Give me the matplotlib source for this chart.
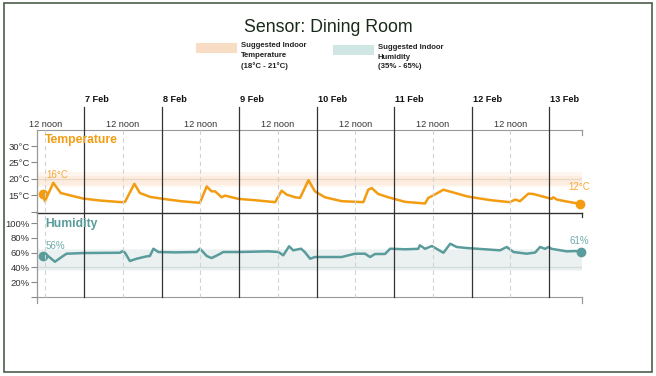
import matplotlib
matplotlib.use("Agg")
import matplotlib.pyplot as plt
from matplotlib.patches import Rectangle
from matplotlib.lines import Line2D
from matplotlib.transforms import blended_transform_factory

plt.rcParams['font.family'] = ['Liberation Sans', 'DejaVu Sans']

# hours since 6 Feb 00:00
temp_hours = [11.2, 11.9, 14.5, 16.8, 20.0, 23.8, 29.0, 35.7, 36.7, 39.6,
              41.3, 44.5, 48.6, 54.0, 59.9, 62.0, 63.5, 64.6, 66.6, 67.7,
              71.8, 77.0, 83.2, 85.2, 86.8, 89.3, 90.9, 93.5, 95.5, 98.6,
              103.8, 110.5, 112.0, 113.1, 115.1, 118.2, 123.4, 129.6, 130.6, 132.2,
              135.3, 138.9, 142.5, 144.1, 150.0, 155.9, 157.5, 159.0, 161.6, 163.1,
              168.8, 169.3, 170.4, 174.0, 177.6]
temp_values = [15.5, 13.2, 18.8, 15.7, 14.9, 14.0, 13.4, 12.9, 13.0, 18.5,
               15.7, 14.5, 13.9, 13.2, 12.7, 17.7, 16.2, 16.2, 14.4, 14.9,
               13.9, 13.5, 12.9, 16.4, 15.2, 14.4, 14.2, 19.6, 16.2, 14.4,
               13.2, 12.9, 16.7, 17.2, 15.4, 14.4, 13.0, 12.5, 14.2, 15.0,
               16.7, 15.7, 14.7, 14.4, 13.5, 12.9, 13.7, 13.2, 15.5, 15.4,
               13.9, 14.4, 13.7, 13.0, 12.4]

hum_hours = [11.2, 12.4, 15.0, 17.1, 18.6, 23.8, 29.0, 35.1, 36.0, 36.7,
             38.2, 40.3, 43.4, 44.4, 45.5, 47.0, 52.2, 58.9, 59.9, 62.0,
             63.5, 65.6, 67.1, 71.8, 81.1, 84.2, 85.7, 87.5, 88.8, 91.2,
             92.4, 94.0, 95.5, 103.8, 107.9, 111.0, 112.6, 114.1, 117.2, 118.8,
             123.4, 127.5, 128.0, 129.6, 131.7, 135.3, 137.4, 139.4, 142.5, 152.8,
             154.9, 157.0, 161.1, 163.7, 165.2, 166.8, 167.8, 168.8, 173.5, 176.1,
             177.9]
hum_values = [55.5, 57.0, 47.5, 54.0, 58.4, 59.3, 59.5, 59.7, 62.0, 59.7,
              48.5, 51.6, 54.8, 55.3, 65.2, 60.7, 60.2, 60.7, 65.2, 55.3,
              52.5, 57.0, 60.7, 60.7, 61.6, 60.7, 56.2, 68.4, 63.0, 65.2,
              60.5, 51.6, 53.9, 53.9, 58.4, 58.4, 53.9, 58.0, 58.0, 65.2,
              64.4, 65.0, 69.8, 65.0, 68.8, 59.7, 71.9, 67.5, 66.1, 63.0,
              67.5, 60.7, 58.4, 60.0, 67.5, 65.0, 67.5, 65.0, 61.6, 62.0,
              61.2]

day_hours = [24, 48, 72, 96, 120, 144, 168]
day_labels = ['7 Feb', '8 Feb', '9 Feb', '10 Feb', '11 Feb', '12 Feb', '13 Feb']
noon_hours = [12, 36, 60, 84, 108, 132, 156]
noon_label = '12 noon'

temp_ticks = [10, 15, 20, 25, 30]
temp_tick_labels = ['', '15°C', '20°C', '25°C', '30°C']
hum_ticks = [0, 20, 40, 60, 80, 100]
hum_tick_labels = ['', '20%', '40%', '60%', '80%', '100%']
temp_band = (18, 21)
hum_band = (35, 65)

ORANGE = '#f39c12'
TEAL = '#5a9c9c'

W, H = 656, 376
fig = plt.figure(figsize=(W / 100, H / 100), dpi=100)


def fx(x):
    return x / W


def fy(y):
    return 1 - y / H


def box(x0, y0, x1, y1):
    return [fx(x0), fy(y1), (x1 - x0) / W, (y1 - y0) / H]


ax_t = fig.add_axes(box(37, 130, 582, 213))
ax_h = fig.add_axes(box(37, 213, 582, 297))
xlim = (9.45, 178.2)

# bands
ax_t.axhspan(temp_band[0] - 0.6, temp_band[1] + 1.2, color='#fef6ee', lw=0)
ax_t.axhspan(temp_band[0], temp_band[1], color='#fcede0', lw=0)
ax_t.axhline(20, color='#ebd6c2', lw=0.9)
ax_h.axhspan(hum_band[0], hum_band[1], color='#f3f6f6', lw=0)
ax_h.axhspan(hum_band[0] + 1.5, hum_band[1] - 1.5, color='#ebf0f0', lw=0)
ax_h.axhline(40, color='#d3dcdc', lw=0.9)

ax_t.plot(temp_hours, temp_values, color=ORANGE, lw=1.8, solid_joinstyle='round', zorder=5)
ax_t.plot([temp_hours[0], temp_hours[-1]], [temp_values[0], temp_values[-1]], 'o',
          color=ORANGE, ms=6, zorder=6, clip_on=False)
ax_h.plot(hum_hours, hum_values, color=TEAL, lw=1.8, solid_joinstyle='round', zorder=5)
ax_h.plot([hum_hours[0], hum_hours[-1]], [hum_values[0], hum_values[-1]], 'o',
          color=TEAL, ms=6, zorder=6, clip_on=False)

ax_t.set_ylim(9.6, 34.9)
ax_h.set_ylim(-0.3, 113.6)
for ax, ticks, labels in [(ax_t, temp_ticks, temp_tick_labels), (ax_h, hum_ticks, hum_tick_labels)]:
    ax.set_xlim(*xlim)
    ax.set_xticks([])
    ax.set_yticks(ticks)
    ax.set_yticklabels(labels)
    ax.tick_params(axis='y', length=4, width=0.8, color='#888', labelcolor='#333',
                   labelsize=6.8, pad=1.5)
    ax.patch.set_visible(False)
    for s in ax.spines.values():
        s.set_visible(False)
    ax.spines['left'].set_visible(True)
    ax.spines['left'].set_color('#999')
    ax.spines['left'].set_linewidth(0.9)

ax_t.spines['top'].set_visible(True)
ax_t.spines['top'].set_color('#999')
ax_t.spines['bottom'].set_visible(True)
ax_t.spines['bottom'].set_color('#333')
ax_t.spines['bottom'].set_linewidth(1.0)
ax_h.spines['bottom'].set_visible(True)
ax_h.spines['bottom'].set_color('#999')

# day and noon lines
tr = blended_transform_factory(ax_t.transData, fig.transFigure)
for h, lab in zip(day_hours, day_labels):
    fig.add_artist(Line2D([h, h], [fy(107), fy(297)], transform=tr, color='#333', lw=0.9, zorder=3))
    fig.text(ax_t.transData.transform((h, 0))[0] / W + 1 / W, fy(100), lab, ha='left', va='center',
             fontsize=6.6, fontweight='bold', color='#111')
for h in noon_hours:
    fig.add_artist(Line2D([h, h], [fy(130), fy(297)], transform=tr, color='#d2d2d2', lw=0.8,
                          dashes=(4, 3), zorder=1))
    fig.text(ax_t.transData.transform((h, 0))[0] / W, fy(125), noon_label, ha='center', va='center',
             fontsize=6.6, color='#333')

# small end ticks
for x, y0, y1, c in [(582, 130, 135, '#999'), (582, 213, 217, '#333'), (582, 297, 303, '#999'),
                     (37, 297, 303, '#999')]:
    fig.add_artist(Line2D([fx(x), fx(x)], [fy(y0), fy(y1)], color=c, lw=0.9))

# series labels
fig.text(fx(45), fy(140), 'Temperature', fontsize=8.7, fontweight='bold', color=ORANGE, va='center')
fig.text(fx(45), fy(224), 'Humidity', fontsize=8.7, fontweight='bold', color=TEAL, va='center')
fig.text(fx(46), fy(175.5), f'{round(temp_values[0])}°C', fontsize=7, color='#f5a93a', va='center')
fig.text(fx(568), fy(186.5), f'{round(temp_values[-1])}°C', fontsize=7, color='#f5a93a', va='center')
fig.text(fx(46), fy(245.5), f'{round(hum_values[0])}%', fontsize=7, color='#6fabab', va='center')
fig.text(fx(569), fy(241.5), f'{round(hum_values[-1])}%', fontsize=7, color='#6fabab', va='center')

# title and legend
fig.text(fx(328), fy(27), 'Sensor: Dining Room', ha='center', va='center', fontsize=12.8, color='#1a2a1a')
fig.add_artist(Rectangle((fx(196), fy(53)), 41 / W, 10 / H, transform=fig.transFigure,
                         color='#f8dcc3', lw=0))
fig.text(fx(241), fy(42), 'Suggested Indoor\nTemperature\n(18°C - 21°C)', ha='left', va='top',
         fontsize=5.6, fontweight='bold', color='#222', linespacing=1.55)
fig.add_artist(Rectangle((fx(333), fy(55)), 41 / W, 10 / H, transform=fig.transFigure,
                         color='#cfe6e4', lw=0))
fig.text(fx(378), fy(44), 'Suggested Indoor\nHumidity\n(35% - 65%)', ha='left', va='top',
         fontsize=5.6, fontweight='bold', color='#222', linespacing=1.55)

# outer frame
fig.add_artist(Rectangle((fx(4), fy(372)), 648 / W, 369 / H, transform=fig.transFigure,
                         fill=False, edgecolor='#4d5d4d', lw=1.2))

fig.savefig('out.png', dpi=100)
